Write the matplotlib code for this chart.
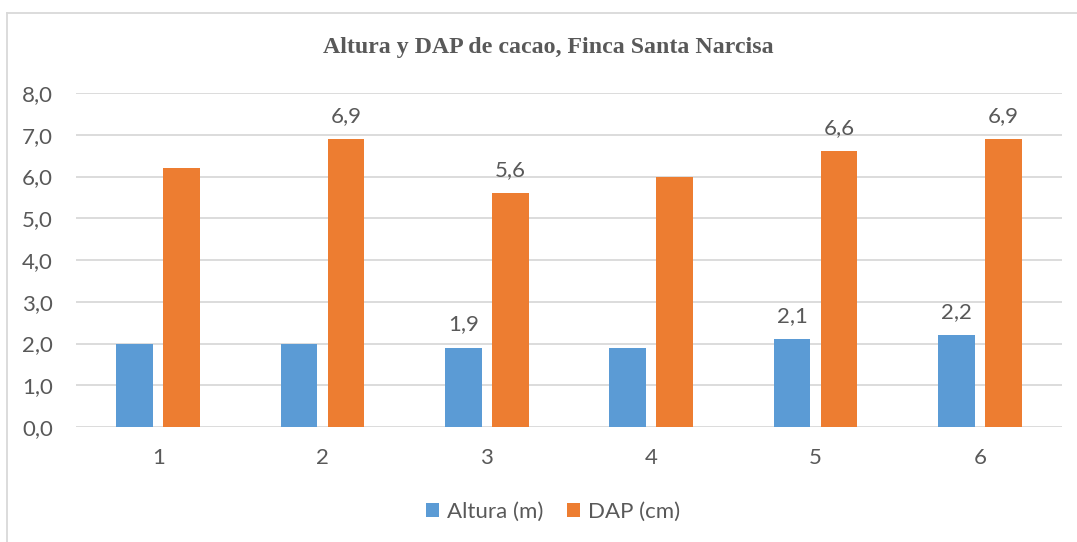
import numpy as np
import matplotlib.pyplot as plt
from matplotlib.lines import Line2D

# tree measurements per sampling point
puntos = ["1", "2", "3", "4", "5", "6"]
altura = [2.0, 2.0, 1.9, 1.9, 2.1, 2.2]
dap = [6.2, 6.9, 5.6, 6.0, 6.6, 6.9]
# which bars carry a value label
etiqueta_altura = [False, False, True, False, True, True]
etiqueta_dap = [False, True, True, False, True, True]

azul = "#5B9BD5"
naranja = "#ED7D31"
gris_texto = "#595959"
gris_linea = "#D9D9D9"

plt.rcParams['font.family'] = ['Lato', 'DejaVu Sans']

fig = plt.figure(figsize=(10.77, 5.42), dpi=100)
fig.set_facecolor("white")
ax = fig.add_axes([76 / 1077, 1 - 427 / 542, (1062 - 76) / 1077, (427 - 93) / 542])

x = np.arange(1, len(puntos) + 1)
ancho = 0.225
desp = 0.143
b1 = ax.bar(x - desp, altura, ancho, color=azul, label="Altura (m)", zorder=3)
b2 = ax.bar(x + desp, dap, ancho, color=naranja, label="DAP (cm)", zorder=3)

def fmt(v):
    return f"{v:.1f}".replace(".", ",")

for barras, valores, marcas in [(b1, altura, etiqueta_altura), (b2, dap, etiqueta_dap)]:
    for rect, v, m in zip(barras, valores, marcas):
        if m:
            ax.annotate(fmt(v), (rect.get_x() + rect.get_width() / 2, v),
                        xytext=(0, 9.5), textcoords="offset points",
                        ha="center", va="bottom", fontsize=16, color=gris_texto)

ax.set_xlim(0.5, 6.5)
ax.set_ylim(0, 8)
ax.set_yticks(np.arange(0, 9, 1))
ax.set_yticklabels([fmt(v) for v in np.arange(0, 9, 1)])
ax.set_xticks(x)
ax.set_xticklabels(puntos)
ax.tick_params(axis="both", length=0, labelsize=16, labelcolor=gris_texto)
ax.tick_params(axis="y", pad=16.5)
ax.tick_params(axis="x", pad=15)
ax.grid(axis="y", color=gris_linea, linewidth=1.3, zorder=0)
for s in ax.spines.values():
    s.set_visible(False)

fig.text(548 / 1077, 1 - 48 / 542, "Altura y DAP de cacao, Finca Santa Narcisa",
         ha="center", va="center", fontsize=17.2, fontweight="bold",
         family="Liberation Serif", color=gris_texto)

ax.legend(loc="center", bbox_to_anchor=(553 / 1077, 1 - 512 / 542),
          bbox_transform=fig.transFigure, ncol=2, frameon=False,
          fontsize=16, labelcolor=gris_texto, handlelength=0.6, handleheight=0.6,
          handletextpad=0.35, columnspacing=1.05)

# chart frame
fig.add_artist(Line2D([6.5 / 1077, 1], [1 - 12.5 / 542] * 2, transform=fig.transFigure,
                      color=gris_linea, linewidth=1.3))
fig.add_artist(Line2D([6.5 / 1077] * 2, [0, 1 - 12.5 / 542], transform=fig.transFigure,
                      color=gris_linea, linewidth=1.3))

fig.savefig("out.png", dpi=100, facecolor="white")
